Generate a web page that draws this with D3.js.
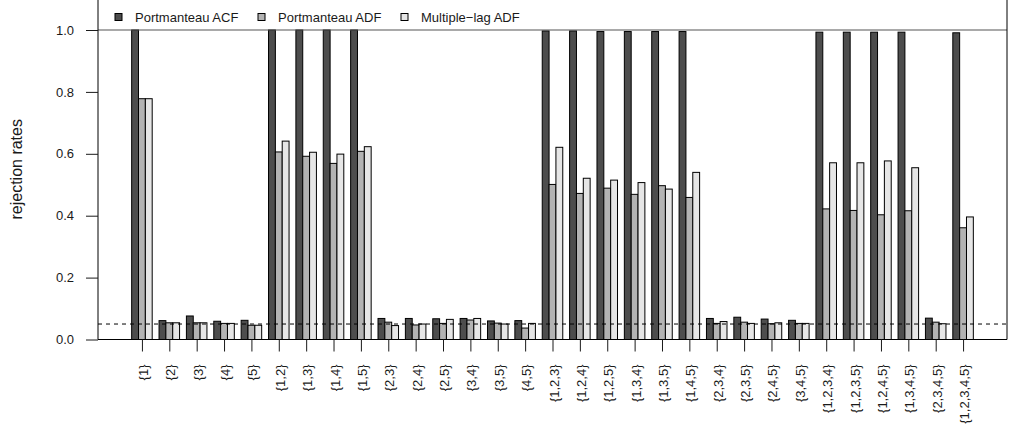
<!DOCTYPE html>
<html>
<head>
<meta charset="utf-8">
<script src="https://cdn.jsdelivr.net/npm/d3@7"></script>
<style>
  html, body { margin: 0; padding: 0; background: #fff; }
  svg { display: block; font-family: "Liberation Sans", Arial, Helvetica, sans-serif; }
</style>
</head>
<body>
<svg id="chart" width="1009" height="432"></svg>
<script>
// Lag subsets tested
const groups = ["{1}","{2}","{3}","{4}","{5}",
  "{1,2}","{1,3}","{1,4}","{1,5}","{2,3}","{2,4}","{2,5}","{3,4}","{3,5}","{4,5}",
  "{1,2,3}","{1,2,4}","{1,2,5}","{1,3,4}","{1,3,5}","{1,4,5}","{2,3,4}","{2,3,5}","{2,4,5}","{3,4,5}",
  "{1,2,3,4}","{1,2,3,5}","{1,2,4,5}","{1,3,4,5}","{2,3,4,5}","{1,2,3,4,5}"];

// Rejection rates per test
const portACF = [1.000,0.061,0.076,0.059,0.062,
  1.000,1.000,1.000,1.000,0.068,0.068,0.067,0.068,0.060,0.061,
  0.997,0.997,0.995,0.995,0.995,0.995,0.068,0.072,0.066,0.062,
  0.993,0.993,0.993,0.993,0.069,0.991];
const portADF = [0.778,0.054,0.054,0.052,0.046,
  0.606,0.592,0.569,0.608,0.056,0.047,0.052,0.063,0.053,0.037,
  0.501,0.472,0.489,0.469,0.497,0.459,0.052,0.056,0.051,0.052,
  0.422,0.417,0.403,0.416,0.056,0.361];
const multiADF = [0.778,0.054,0.054,0.052,0.046,
  0.641,0.605,0.599,0.623,0.045,0.050,0.065,0.068,0.050,0.052,
  0.621,0.521,0.515,0.507,0.486,0.540,0.058,0.052,0.054,0.052,
  0.571,0.571,0.577,0.555,0.051,0.396];

const seriesNames = ["Portmanteau ACF", "Portmanteau ADF", "Multiple\u2212lag ADF"];
const seriesFill = ["#4d4d4d", "#b3b3b3", "#e6e6e6"];
const yTicks = [0, 0.2, 0.4, 0.6, 0.8, 1.0];
const nominalLevel = 0.05;

const series = [portACF, portADF, multiADF];

const svg = d3.select("#chart");
const plotLeft = 98, plotRight = 1007, plotBottom = 339.5;

// bar units: each group = 3 bars + 1 gap; 4% padding on each side
const nUnits = groups.length * 4;
const span = nUnits - 1;
const x = d3.scaleLinear()
  .domain([1 - 0.04 * span, nUnits + 0.04 * span])
  .range([plotLeft, plotRight]);
const y = d3.scaleLinear().domain([0, 1]).range([plotBottom, 30]);
const plotTop = y(1.1);

const ink = "#1a1a1a";

// bars
const bars = [];
groups.forEach((g, i) => {
  series.forEach((s, j) => {
    bars.push({ x0: 1 + 4 * i + j, v: s[i], fill: seriesFill[j] });
  });
});
svg.append("g").selectAll("rect").data(bars).join("rect")
  .attr("x", d => x(d.x0))
  .attr("width", d => x(d.x0 + 1) - x(d.x0))
  .attr("y", d => y(d.v))
  .attr("height", d => y(0) - y(d.v))
  .attr("fill", d => d.fill)
  .attr("stroke", "#000")
  .attr("stroke-width", 1);

// nominal 5% level
svg.append("line")
  .attr("x1", plotLeft).attr("x2", plotRight)
  .attr("y1", y(nominalLevel)).attr("y2", y(nominalLevel))
  .attr("stroke", "#000").attr("stroke-width", 1)
  .attr("stroke-dasharray", "4,4");

// legend strip border at top
svg.append("line")
  .attr("x1", plotLeft).attr("x2", plotRight)
  .attr("y1", y(1)).attr("y2", y(1))
  .attr("stroke", "#555").attr("stroke-width", 1.2);

// frame
svg.append("path")
  .attr("d", `M${plotLeft},${plotTop}V${plotBottom}H${plotRight}V${plotTop}`)
  .attr("fill", "none").attr("stroke", "#000").attr("stroke-width", 1);

// y axis
const yAxis = d3.axisLeft(y).tickValues(yTicks).tickFormat(d3.format(".1f"))
  .tickSize(12).tickPadding(12);
const gy = svg.append("g").attr("transform", `translate(${plotLeft},0)`).call(yAxis);
gy.select(".domain").remove();
gy.selectAll("line").attr("stroke", ink);
gy.selectAll("text").attr("fill", ink).attr("font-size", 13)
  .attr("font-family", "Liberation Sans, Arial, sans-serif");

// x axis
const xBand = d3.scaleOrdinal().domain(groups).range(groups.map((g, i) => x(1 + 4 * i + 1.5)));
const xAxis = d3.axisBottom(xBand).tickSize(12).tickPadding(0);
const gx = svg.append("g").attr("transform", `translate(0,${plotBottom})`).call(xAxis);
gx.select(".domain").remove();
gx.selectAll("line").attr("stroke", ink);
gx.selectAll("text")
  .attr("fill", ink).attr("font-size", 13)
  .attr("font-family", "Liberation Sans, Arial, sans-serif")
  .attr("text-anchor", "end")
  .attr("dy", null).attr("y", null)
  .attr("dominant-baseline", "central")
  .attr("transform", "translate(1,25) rotate(-90)");

// y label
svg.append("text")
  .attr("transform", `translate(21.5,${(plotTop + plotBottom) / 2}) rotate(-90)`)
  .attr("text-anchor", "middle")
  .attr("font-size", 16)
  .attr("fill", ink)
  .text("rejection rates");

// legend
const legend = svg.append("g").selectAll("g").data(seriesNames).join("g")
  .attr("transform", (d, i) => `translate(${115 + 143 * i},0)`);
legend.append("rect")
  .attr("x", 0).attr("y", 13.5).attr("width", 7).attr("height", 7)
  .attr("fill", (d, i) => seriesFill[i]).attr("stroke", "#000");
legend.append("text")
  .attr("x", 20).attr("y", 17)
  .attr("dominant-baseline", "central")
  .attr("font-size", 13).attr("fill", ink)
  .text(d => d);
</script>
</body>
</html>
